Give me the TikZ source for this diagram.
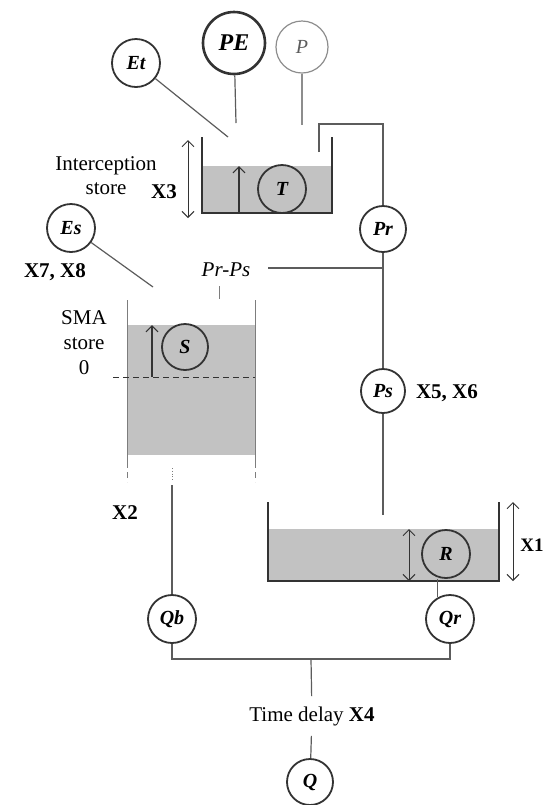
\documentclass[tikz,border=0pt]{standalone}
\usepackage{fontspec}
\setmainfont{Liberation Serif}
\usetikzlibrary{arrows.meta,calc}
\definecolor{Ink}{HTML}{333333}
\definecolor{Wire}{HTML}{5C5C5C}
\definecolor{Water}{HTML}{C2C2C2}

\begin{document}
\begin{tikzpicture}[x=0.5pt,y=-0.5pt,
  font=\fontsize{10.5}{12}\selectfont,
  var/.style={circle,draw=Ink,line width=0.9pt,minimum size=24pt,inner sep=0pt,
              font=\fontsize{10}{12}\selectfont\bfseries\itshape},
  wire/.style={draw=Wire,line width=0.6pt},
  wall/.style={draw=Ink,line width=0.8pt},
  side/.style={draw=Wire!80,line width=0.4pt},
  lvl/.style={{Straight Barb[length=3pt]}-{Straight Barb[length=3pt]},draw=Ink,line width=0.5pt},
  up/.style={-{Straight Barb[length=3pt]},draw=Ink,line width=0.6pt},
  par/.style={font=\fontsize{10.5}{12}\selectfont\bfseries}]
\useasboundingbox (0,0) rectangle (544,805);
% water levels
\fill[Water] (202,166) rectangle (332,213);
\fill[Water] (127,325) rectangle (255,455);
\fill[Water] (268,529) rectangle (499,581);
% variables
\node[var,minimum size=31pt,line width=1.3pt,font=\fontsize{12}{14}\selectfont\bfseries\itshape] (PE) at (234,43) {PE};
\node[var] (Et) at (136,63) {Et};
\node[var,draw=Wire!70,line width=0.6pt,minimum size=26pt,text=Wire,
      font=\fontsize{10}{12}\selectfont\itshape] (P) at (302,47) {P};
\node[var] (T) at (282,189) {T};
\node[var,minimum size=23pt] (Pr) at (383,229) {Pr};
\node[var] (Es) at (71,228) {Es};
\node[var,minimum size=23pt] (S) at (185,347) {S};
\node[var,minimum size=22pt] (Ps) at (383,391) {Ps};
\node[var] (R) at (446,554) {R};
\node[var] (Qb) at (172,619) {Qb};
\node[var] (Qr) at (450,619) {Qr};
\node[var,minimum size=23pt] (Q) at (310,782) {Q};
% interception store
\draw[wall] (202,137) -- (202,213) -- (332,213) -- (332,137);
\draw[up] (239,213) -- (239,166);
\draw[lvl] (188,140) -- (188,218);
\node[align=center] (isl) at (106,176) {Interception\\store};
\node[par] (x3) at (164,192) {X3};
\coordinate (etin) at (228,137);
\coordinate (pein) at (236,123);
\coordinate (pin) at (302,125);
\draw[wire] (Et) -- (etin);
\draw[wire] (PE) -- (pein);
\draw[wire,draw=Wire!70] (P) -- (pin);
\draw[wire] (319,152) -- (319,124) -| (Pr.north);
% split Pr
\coordinate (split) at (383,268);
\draw[wire] (Pr) -- (Ps);
\draw[wire] (split) -- (268,268);
\node[font=\fontsize{10.5}{12}\selectfont\itshape] (prps) at (226,270) {Pr-Ps};
\draw[side] (219,286) -- (219,299);
\node[par] (x56) at (447,393) {X5, X6};
\coordinate (rin) at (383,515);
\draw[wire] (Ps) -- (rin);
% SMA store
\coordinate (esin) at (153,287);
\draw[wire] (Es) -- (esin);
\node[par] (x78) at (55,272) {X7, X8};
\foreach \x in {127,255}{%
  \draw[side] (\x,300) -- (\x,462);
  \draw[side,densely dashed] (\x,462) -- (\x,482);}
\draw[Ink,densely dashed,line width=0.5pt] (113,377) -- (255,377);
\draw[up] (152,377) -- (152,325);
\node[align=center,font=\fontsize{10.5}{12.5}\selectfont] (sml) at (84,343) {SMA\\store\\0};
\node[par] (x2) at (125,513) {X2};
\draw[side,densely dotted] (172,468) -- (172,480);
\draw[wire] (172,485) -- (Qb);
% routing store
\draw[wall] (268,502) -- (268,581) -- (499,581) -- (499,502);
\draw[lvl] (409,529) -- (409,581);
\draw[lvl] (513,502) -- (513,581);
\node[par,anchor=west,inner sep=1pt,font=\fontsize{9.5}{11}\selectfont\bfseries] (x1) at (518,545) {X1};
\draw[wire] (Qr.120) -- (Qr.120 |- R.south);
% outflow
\coordinate (bus) at (311,659);
\draw[wire] (Qb) -- (172,659) -| (Qr.south);
\node[inner ysep=5pt] (td) at (312,716) {Time delay \textbf{X4}};
\draw[wire] (bus) -- (td);
\draw[wire] (td) -- (Q);
\end{tikzpicture}
\end{document}
